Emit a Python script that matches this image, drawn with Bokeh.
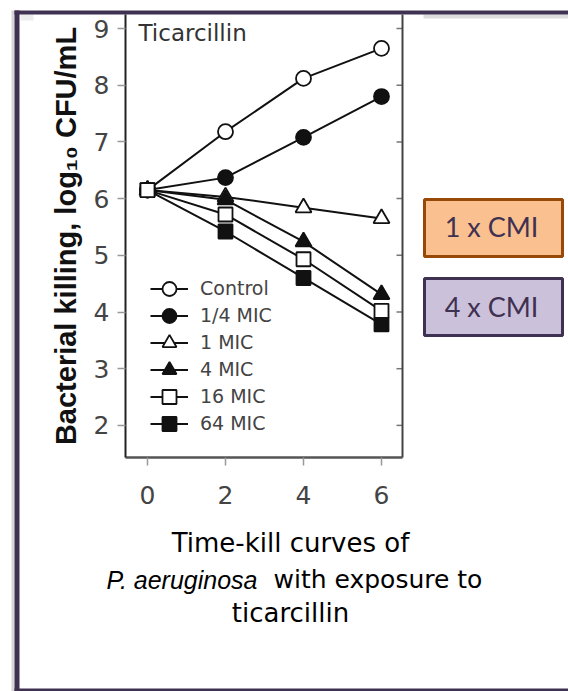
from bokeh.plotting import figure
from bokeh.models import (Range1d, FixedTicker, Legend, LegendItem,
                          Label, BoxAnnotation)
from bokeh.embed import file_html
from bokeh.resources import INLINE

# ---- data ----
times = [0, 2, 4, 6]
series_names = ["Control", "1/4 MIC", "1 MIC", "4 MIC", "16 MIC", "64 MIC"]
control = [6.15, 7.18, 8.12, 8.65]
quarter_mic = [6.15, 6.37, 7.08, 7.80]
one_mic = [6.15, 6.03, 5.84, 5.65]
four_mic = [6.15, 5.98, 5.24, 4.31]
sixteen_mic = [6.15, 5.72, 4.93, 4.02]
sixtyfour_mic = [6.15, 5.42, 4.60, 3.78]
x_ticks = [0, 2, 4, 6]
y_ticks = [2, 3, 4, 5, 6, 7, 8, 9]
panel_title = "Ticarcillin"
y_label = "Bacterial killing, log\u2081\u2080 CFU/mL"
box_texts = ["1 x CMI", "4 x CMI"]
caption_line1 = "Time-kill curves of"
caption_italic = "P. aeruginosa"
caption_line2 = "with exposure to"
caption_line3 = "ticarcillin"

# ---- layout (pixels on the page) ----
W, H = 568, 691
X0_PX, X_PX_PER_UNIT = 147.0, 39.0      # where time 0 sits, pixels per hour
Y9_PX, Y_PX_PER_UNIT = 28.0, 56.7       # where log 9 sits, pixels per log
BOX_L, BOX_R, BOX_T, BOX_B = 125, 402, 14, 457   # plot box edges (px)
FRAME = "#3F3151"

def dx(px):
    return (px - X0_PX) / X_PX_PER_UNIT

def dy(py):
    return 9 - (py - Y9_PX) / Y_PX_PER_UNIT

def sy(py):  # screen y (from bottom) for a page y
    return H - py

def text_y(baseline_py, size):  # compensate label baseline placement
    return sy(baseline_py - 0.4 * size)

p = figure(width=W, height=H, output_backend="svg", toolbar_location=None,
           title=None, x_range=Range1d(dx(0), dx(W)), y_range=Range1d(dy(H), dy(0)))
p.min_border_left = 0
p.min_border_right = 0
p.min_border_top = 0
p.min_border_bottom = 0
p.outline_line_color = None
p.xgrid.visible = False
p.ygrid.visible = False
p.background_fill_color = "white"
p.border_fill_color = "white"

# left axis
ya = p.yaxis[0]
ya.fixed_location = dx(BOX_L)
ya.bounds = (dy(BOX_B), dy(BOX_T))
ya.ticker = FixedTicker(ticks=y_ticks)
ya.axis_line_color = "#222222"
ya.axis_line_width = 2
ya.major_tick_out = 8
ya.major_tick_in = 0
ya.major_tick_line_color = "#999999"
ya.major_tick_line_width = 1.5
ya.minor_tick_line_color = None
ya.major_label_text_font = "DejaVu Sans"
ya.major_label_text_font_size = "25px"
ya.major_label_text_color = "#444444"
ya.major_label_standoff = 8
ya.axis_label = y_label
ya.axis_label_text_font = "Liberation Sans"
ya.axis_label_text_font_style = "bold"
ya.axis_label_text_font_size = "29px"
ya.axis_label_text_color = "#111111"
ya.axis_label_standoff = 9

# bottom axis
xa = p.xaxis[0]
xa.fixed_location = dy(BOX_B)
xa.bounds = (dx(BOX_L), dx(BOX_R))
xa.ticker = FixedTicker(ticks=x_ticks)
xa.axis_line_color = "#555555"
xa.axis_line_width = 2.5
xa.major_tick_out = 8
xa.major_tick_in = 0
xa.major_tick_line_color = "#999999"
xa.major_tick_line_width = 1.5
xa.minor_tick_line_color = None
xa.major_label_text_font = "DejaVu Sans"
xa.major_label_text_font_size = "25px"
xa.major_label_text_color = "#444444"
xa.major_label_standoff = 20

# boxes in screen pixels
def sbox(l, r, t, b, color, edge=None, lw=0, level="underlay"):
    p.add_layout(BoxAnnotation(left=l, right=r, top=sy(t), bottom=sy(b),
                               left_units="screen", right_units="screen",
                               bottom_units="screen", top_units="screen",
                               fill_color=color, fill_alpha=1.0,
                               line_color=edge, line_alpha=1.0, line_width=lw,
                               line_dash="solid", level=level))

# outer slide frame
sbox(11, 14, 10, H, "#D6D6D6")       # left shadow
sbox(423, W, 14, 18, "#DCDCDC")      # top shadow (right part)
sbox(20, 33, 14, 20, "#ECECEC")      # small grey corner
sbox(14, 19, 10, H, FRAME)           # left border
sbox(14, W, 10, 14, FRAME)           # top border
sbox(14, W, 688, H, FRAME)           # bottom border

# right edge of the plot box with inner ticks
sbox(BOX_R - 1, BOX_R + 1, BOX_T, BOX_B, "#444444", level="guide")
p.segment(x0=[dx(BOX_R - 6)] * len(y_ticks), y0=y_ticks,
          x1=[dx(BOX_R)] * len(y_ticks), y1=y_ticks,
          line_color="#777777", line_width=1.5)

# series
series = [control, quarter_mic, one_mic, four_mic, sixteen_mic, sixtyfour_mic]
markers = ["circle", "circle", "triangle", "triangle", "square", "square"]
fills = ["white", "#111111", "white", "#111111", "white", "#111111"]
sizes = [15, 15, 16, 16, 14, 14]

line_rs = []
for vals in series:
    line_rs.append(p.line(times, vals, line_color="#111111", line_width=2))

scatter_rs = [None] * 6
for i in [0, 1, 2, 3, 5, 4]:
    scatter_rs[i] = p.scatter(times, series[i], marker=markers[i], size=sizes[i],
                              fill_color=fills[i], line_color="#111111", line_width=1.8)

# legend: two interleaved legends so rows sit 27 px apart with 14 px markers
ROW_PITCH = 27
GLYPH_H = 35
first_row_center = 288
for start in (0, 1):
    idx = list(range(start, 6, 2))
    last_center = first_row_center + ROW_PITCH * idx[-1]
    leg = Legend(items=[LegendItem(label=series_names[i],
                                   renderers=[line_rs[i], scatter_rs[i]]) for i in idx],
                 location=(150, sy(last_center + GLYPH_H / 2)),
                 glyph_width=38, glyph_height=GLYPH_H, spacing=2 * ROW_PITCH - GLYPH_H,
                 label_standoff=12, padding=0, margin=0,
                 border_line_color=None, background_fill_alpha=0,
                 label_text_font="DejaVu Sans", label_text_font_size="19px",
                 label_text_color="#444444", label_text_baseline="middle")
    p.add_layout(leg)

# panel title
p.add_layout(Label(x=138, y=text_y(42, 23), x_units="screen", y_units="screen",
                   text=panel_title, text_font="DejaVu Sans", text_font_size="23px",
                   text_color="#333333", text_baseline="alphabetic"))

# coloured boxes
for (top, bot, fill, edge, txt, base) in [(198, 257, "#FAC090", "#984807", box_texts[0], 237),
                                          (277, 336, "#CCC1DA", FRAME, box_texts[1], 317)]:
    sbox(424, 562, top + 1, bot - 1, fill, edge=edge, lw=3, level="overlay")
    p.add_layout(Label(x=491, y=text_y(base, 27), x_units="screen", y_units="screen",
                       text=txt, text_font="Lato", text_font_size="27px", text_color=FRAME,
                       text_align="center", text_baseline="alphabetic", level="overlay"))

# caption
p.add_layout(Label(x=290, y=text_y(553, 26), x_units="screen", y_units="screen",
                   text=caption_line1, text_font="DejaVu Sans", text_font_size="26px",
                   text_color="black", text_align="center", text_baseline="alphabetic"))
p.add_layout(Label(x=257, y=text_y(589, 25), x_units="screen", y_units="screen",
                   text=caption_italic, text_font="Liberation Sans",
                   text_font_style="italic", text_font_size="25px", text_color="black",
                   text_align="right", text_baseline="alphabetic"))
p.add_layout(Label(x=273, y=text_y(589, 25), x_units="screen", y_units="screen",
                   text=caption_line2, text_font="DejaVu Sans", text_font_size="25px",
                   text_color="black", text_align="left", text_baseline="alphabetic"))
p.add_layout(Label(x=290, y=text_y(623, 26), x_units="screen", y_units="screen",
                   text=caption_line3, text_font="DejaVu Sans", text_font_size="26px",
                   text_color="black", text_align="center", text_baseline="alphabetic"))

open("out.html", "w").write(file_html(p, INLINE))
